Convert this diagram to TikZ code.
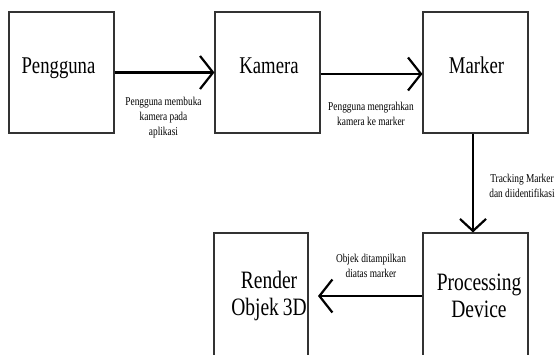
\documentclass[tikz,border=0pt]{standalone}
\usepackage{fontspec}
\setmainfont[FakeStretch=0.78]{Liberation Serif}
\usetikzlibrary{arrows.meta}
\begin{document}
\begin{tikzpicture}[x=1pt,y=-1pt,
 box/.style={draw=black!80, line width=1.1pt, inner sep=0pt, minimum width=105pt, minimum height=121pt},
 big/.style={font=\fontsize{24}{28}\selectfont, inner sep=0pt, anchor=base},
 bigtwo/.style={font=\fontsize{25}{27.5}\selectfont, inner sep=0pt, anchor=north, align=center},
 small/.style={font=\fontsize{12}{15}\selectfont, inner sep=0pt, anchor=north, align=center},
 arr/.style={line width=2.2pt, -{Straight Barb[length=13pt,width=33pt]}}]
\clip (0,0) rectangle (560,354);
\fill[white] (0,0) rectangle (560,354);
% boxes
\node[box] (peng) at (61.5,72.5) {};
\node[box] (kam) at (267.5,72.5) {};
\node[box] (mark) at (475.5,72.5) {};
\node[box, minimum height=147pt] (proc) at (475.5,306.5) {};
\node[box, minimum width=94pt, minimum height=147pt] (rend) at (261,306.5) {};
% box texts
\node[big] (tpeng) at (58.5,73) {Pengguna};
\node[big] (tkam) at (269,73) {Kamera};
\node[big] (tmark) at (476.5,73) {Marker};
\node[bigtwo] (trend) at (269,268) {\rule{0pt}{20pt}Render\\Objek{\kern-1pt} 3D};
\node[bigtwo] (tproc) at (479,270) {\rule{0pt}{20pt}Processing\\Device};
% connectors
\draw[arr] (peng.east) -- (kam.west);
\draw[arr] ([yshift=-1.5pt]kam.east) -- ([yshift=-1.5pt]mark.west);
\draw[arr, -{Straight Barb[length=12pt,width=26pt]}] ([xshift=-2.5pt]mark.south) -- ([xshift=-2.5pt]proc.north);
\coordinate (r4) at (318,296);
\draw[arr] (proc.west |- r4) -- (r4);
% connector labels
\node[small] (l1) at (163.5,93) {\rule{0pt}{12pt}Pengguna membuka\\kamera pada\\aplikasi};
\node[small] (l2) at (371,98) {\rule{0pt}{12pt}Pengguna mengrahkan\\kamera ke marker};
\node[small] (l3) at (522,170) {\rule{0pt}{12pt}Tracking Marker\\dan diidentifikasi};
\node[small] (l4) at (371,250) {\rule{0pt}{12pt}Objek ditampilkan\\diatas marker};
\end{tikzpicture}
\end{document}
